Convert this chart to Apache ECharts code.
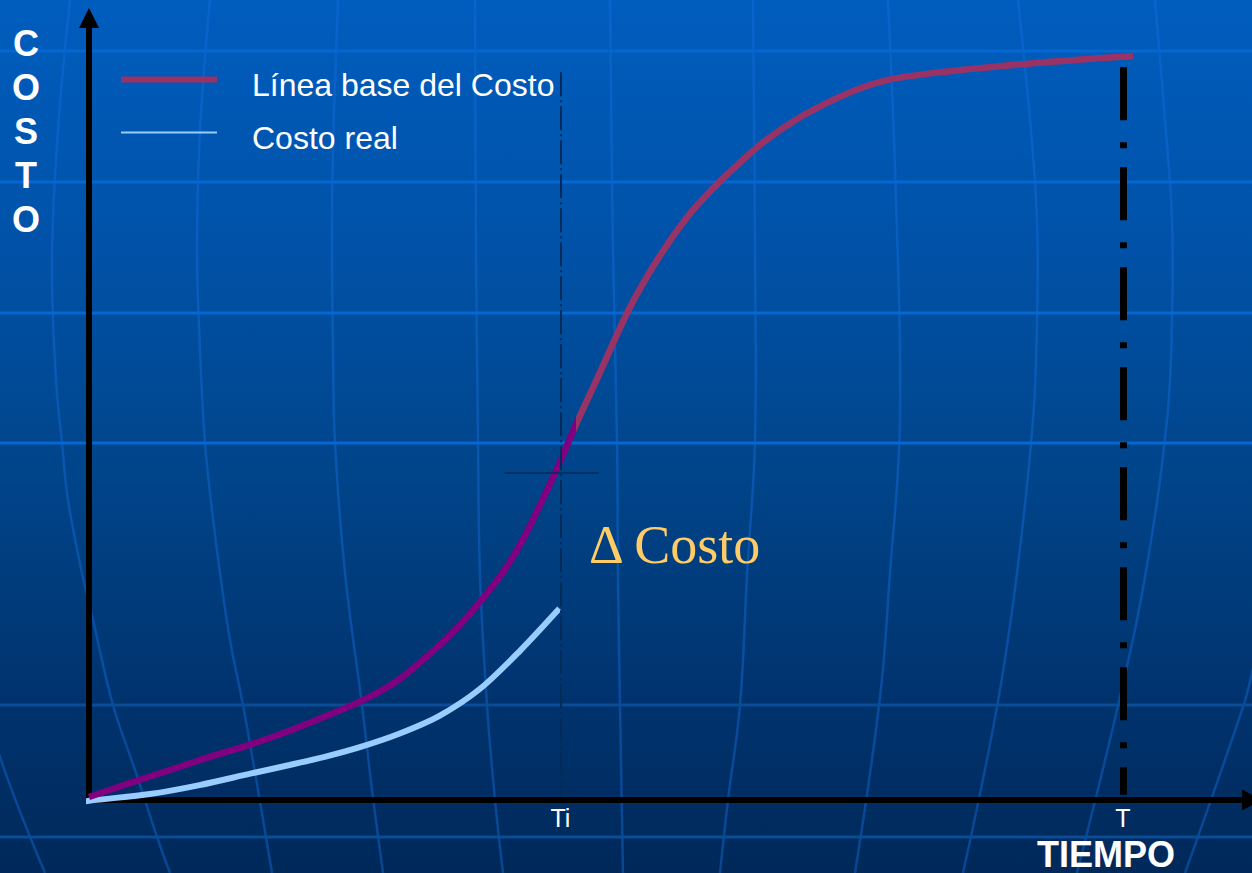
<!DOCTYPE html>
<html>
<head>
<meta charset="utf-8">
<title>Línea base del Costo</title>
<script src="https://cdn.jsdelivr.net/npm/echarts@6/dist/echarts.min.js"></script>
<style>
  html, body { margin: 0; padding: 0; background: #003a78; }
  #chart { width: 1252px; height: 873px; }
</style>
</head>
<body>
<div id="chart"></div>
<script>
// Time axis: project end T = 100, status date Ti.
const tickValues = [45.6, 100];
const tickLabels = ['Ti', 'T'];
const statusTime = 45.6;
const endTime = 100;

const seriesNames = ['Línea base del Costo', 'Costo real'];

// Planned cost (S-curve), % of budget over time.
const baselineTime = [0, 4.0, 7.8, 11.7, 15.5, 19.4, 23.9, 27.1, 30.0, 33.6, 35.8, 38.0, 40.2, 42.1, 44.0, 45.5,
  47.1, 49.1, 52.2, 55.1, 58.0, 60.5, 62.9, 65.4, 68.7, 71.7, 74.5, 77.3, 82.2, 89.4, 95.7, 101.0];
const baselineCost = [0.4, 2.3, 4.0, 5.8, 7.4, 9.3, 11.8, 13.8, 16.2, 20.4, 23.4, 26.9, 30.9, 35.3, 40.7, 45.2,
  50.4, 56.4, 65.8, 72.8, 78.5, 82.3, 85.5, 88.5, 91.6, 93.8, 95.5, 96.7, 97.7, 98.7, 99.4, 99.9];
// The baseline is drawn purple up to this time, wine-red afterwards.
const colourSplitTime = 47.1;

// Actual cost up to the status date.
const actualTime = [-1.55, 0, 5.9, 10.7, 15.5, 19.4, 22.8, 26.2, 30.0, 33.9, 37.8, 41.6, 45.5];
const actualCost = [-0.5, -0.1, 0.8, 2.0, 3.5, 4.7, 5.8, 7.1, 8.9, 11.3, 14.9, 19.9, 25.7];

// Planned cost reached at Ti, marked with a short level line.
const plannedAtStatus = 44.0;
const statusLevelFrom = 40.2;
const statusLevelTo = 49.3;

const zip = (xs, ys) => xs.map((x, i) => [x, ys[i]]);

const SANS = '"Liberation Sans", Arial, sans-serif';
const SERIF = '"Liberation Serif", "Times New Roman", serif';
const W = 1252, H = 873;

// Decorative globe-style background grid.
const parallels = [
  { y: 51, c: '#0567D2' }, { y: 182, c: '#0567D2' }, { y: 313, c: '#0567D2' },
  { y: 443, c: '#0567D2' }, { y: 705, c: '#0A4C96' }, { y: 837, c: '#0A4C96' }
];
const meridians = [
  [[-30, 650], [0, 757], [45, 873]],
  [[70, 0], [58, 130], [52, 260], [56, 380], [62, 443], [68, 500], [82, 573], [93, 620], [113, 705], [135, 770], [157, 837], [170, 873]],
  [[210, 0], [200, 130], [197, 250], [200, 350], [205, 443], [212, 510], [220, 573], [230, 640], [243, 705], [258, 790], [272, 873]],
  [[338, 0], [333, 150], [332, 250], [333, 350], [335, 443], [345, 573], [362, 705], [372, 790], [383, 873]],
  [[475, 0], [476, 250], [478, 440], [480, 575], [487, 705], [495, 800], [503, 873]],
  [[610, 0], [613, 250], [617, 440], [618, 575], [620, 705], [623, 873]],
  [[753, 0], [755, 250], [755, 440], [747, 575], [740, 705], [728, 800], [720, 873]],
  [[888, 0], [896, 200], [900, 420], [890, 573], [880, 697], [855, 873]],
  [[1018, 0], [1030, 120], [1037, 220], [1037, 320], [1033, 420], [1017, 573], [997, 707], [963, 873]],
  [[1155, 0], [1165, 120], [1172, 220], [1172, 320], [1167, 420], [1145, 577], [1120, 697], [1077, 873]],
  [[1270, 600], [1252, 673], [1243, 707], [1185, 873]]
];

const backgroundGraphics = [
  {
    type: 'rect', z: -10, silent: true,
    shape: { x: 0, y: 0, width: W, height: H },
    style: {
      fill: new echarts.graphic.LinearGradient(0, 0, 0, 1, [
        { offset: 0, color: '#005DBE' },
        { offset: 0.3, color: '#0051A6' },
        { offset: 0.55, color: '#004489' },
        { offset: 0.8, color: '#00336E' },
        { offset: 1, color: '#00295A' }
      ])
    }
  },
  ...meridians.map(pts => ({
    type: 'polyline', z: -9, silent: true,
    shape: { points: pts, smooth: 0.4 },
    style: { stroke: 'rgba(20,112,225,0.42)', lineWidth: 2.5, fill: null }
  })),
  ...parallels.map(p => ({
    type: 'line', z: -8, silent: true,
    shape: { x1: 0, y1: p.y, x2: W, y2: p.y },
    style: { stroke: p.c, lineWidth: 3 }
  }))
];

const legendText = { color: '#ffffff', fontSize: 32, fontFamily: SANS, padding: [0, 0, 0, 30] };

const chart = echarts.init(document.getElementById('chart'), null, { renderer: 'svg' });

chart.setOption({
  animation: false,
  graphic: backgroundGraphics,
  title: [
    {
      text: 'C\nO\nS\nT\nO',
      left: 26, top: 21, textAlign: 'center', padding: 0,
      textStyle: { color: '#ffffff', fontSize: 36, fontWeight: 'bold', lineHeight: 44, fontFamily: SANS }
    },
    {
      text: 'TIEMPO',
      left: 1037, top: 836, padding: 0,
      textStyle: { color: '#ffffff', fontSize: 36, fontWeight: 'bold', fontFamily: SANS }
    },
    {
      text: 'Δ Costo',
      left: 589, top: 518, padding: 0,
      textStyle: { color: '#FFCC66', fontSize: 54, fontWeight: 'normal', fontFamily: SERIF }
    }
  ],
  legend: [
    {
      // swatch bar sits a little above the text's middle
      data: [{ name: seriesNames[0], icon: 'path://M0,0L96,0L96,6L0,6Z M0,16L0,16', itemStyle: { color: '#993366' } }],
      left: 121, top: 68.5, padding: 0, selectedMode: false,
      itemWidth: 96, itemHeight: 16,
      textStyle: legendText
    },
    {
      data: [{ name: seriesNames[1], icon: 'path://M0,0L96,0L96,2L0,2Z M0,12L0,12', itemStyle: { color: '#99CCFF' } }],
      left: 121, top: 121.5, padding: 0, selectedMode: false,
      itemWidth: 96, itemHeight: 12,
      textStyle: legendText
    }
  ],
  grid: { left: 89, right: -2, top: 18, bottom: 73 },
  xAxis: {
    type: 'value', min: 0, max: 112.5,
    axisLine: {
      show: true, symbol: ['none', 'triangle'], symbolSize: [21, 20],
      lineStyle: { color: '#000000', width: 6 }
    },
    axisTick: { show: false },
    splitLine: { show: false },
    axisLabel: {
      customValues: tickValues,
      formatter: v => {
        let best = 0;
        tickValues.forEach((t, i) => { if (Math.abs(t - v) < Math.abs(tickValues[best] - v)) best = i; });
        return tickLabels[best];
      },
      color: '#ffffff', fontSize: 25, fontFamily: SANS, margin: 5
    }
  },
  yAxis: {
    type: 'value', min: 0, max: 105,
    axisLine: {
      show: true, symbol: ['none', 'triangle'], symbolSize: [20, 20],
      lineStyle: { color: '#000000', width: 6 }
    },
    axisTick: { show: false },
    splitLine: { show: false },
    axisLabel: { show: false }
  },
  series: [
    {
      id: 'baseline',
      name: seriesNames[0],
      type: 'line',
      data: zip(baselineTime, baselineCost),
      smooth: 0.3,
      showSymbol: false, z: 4,
      itemStyle: { color: '#993366' },
      lineStyle: { width: 6.5, color: '#993366', cap: 'butt' }
    },
    {
      name: seriesNames[1],
      type: 'line',
      data: zip(actualTime, actualCost),
      smooth: 0.3,
      showSymbol: false, clip: false, z: 3,
      itemStyle: { color: '#99CCFF' },
      lineStyle: { width: 6, color: '#99CCFF', cap: 'butt' },
      markLine: {
        silent: true, symbol: ['none', 'none'], label: { show: false },
        data: [
          [
            { coord: [endTime, 98.4], lineStyle: { color: '#000000', width: 7, type: [53, 22, 6, 19] } },
            { coord: [endTime, 0.7] }
          ],
          [
            { coord: [statusTime, 97.7], lineStyle: { color: '#022B58', width: 2, type: [24, 4, 2, 4] } },
            { coord: [statusTime, 0.5] }
          ],
          [
            { coord: [statusLevelFrom, plannedAtStatus], lineStyle: { color: '#022B58', width: 1.5, type: 'solid' } },
            { coord: [statusLevelTo, plannedAtStatus] }
          ]
        ]
      }
    }
  ]
});

// Colour the baseline purple before the split time and wine-red after it,
// using a hard-stop gradient placed at the split time's pixel position.
const splitX = chart.convertToPixel({ xAxisIndex: 0, yAxisIndex: 0 }, [colourSplitTime, 0])[0];
const f = splitX / W;
chart.setOption({
  series: [{
    id: 'baseline',
    lineStyle: {
      color: new echarts.graphic.LinearGradient(0, 0, W, 0, [
        { offset: 0, color: '#800080' },
        { offset: f, color: '#800080' },
        { offset: f, color: '#993366' },
        { offset: 1, color: '#993366' }
      ], true)
    }
  }]
});
</script>
</body>
</html>
